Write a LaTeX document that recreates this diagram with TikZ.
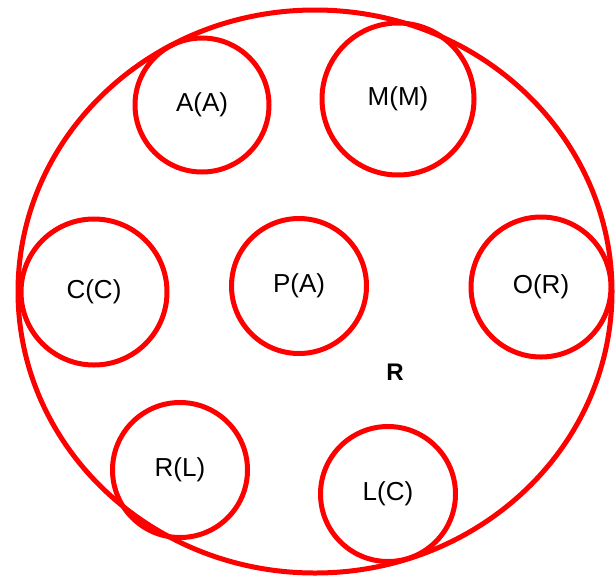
\documentclass[tikz,border=0pt]{standalone}
\usepackage{fontspec}
\setmainfont{Liberation Sans}
\usepackage{xcolor}
\usetikzlibrary{positioning}

\begin{document}
\begin{tikzpicture}[
    x=1pt, y=-1pt,
    ring/.style={circle, draw=red, line width=5pt, inner sep=0pt, font=\fontsize{26}{30}\selectfont},
    tag/.style={font=\fontsize{24}{28}\selectfont\bfseries}
]
\useasboundingbox (0,0) rectangle (615,576);

% Outer boundary
\draw[red, line width=5pt] (315,291.5) ellipse [x radius=297, y radius=281.5];

% Inner circles
\node[ring, minimum size=134pt] (aa) at (202,105) {A(A)};
\node[ring, minimum size=152pt] (mm) at (398,99) {M(M)};
\node[ring, minimum size=146pt] (cc) at (94,292) {C(C)};
\node[ring, minimum size=135pt] (pa) at (299,286) {P(A)};
\node[ring, minimum size=140pt] (or) at (541,287) {O(R)};
\node[ring, minimum size=135pt] (rl) at (180,470) {R(L)};
\node[ring, minimum size=135pt] (lc) at (388,494) {L(C)};

% Region label
\node[tag] (region) at (395,372) {R};

\end{tikzpicture}
\end{document}
